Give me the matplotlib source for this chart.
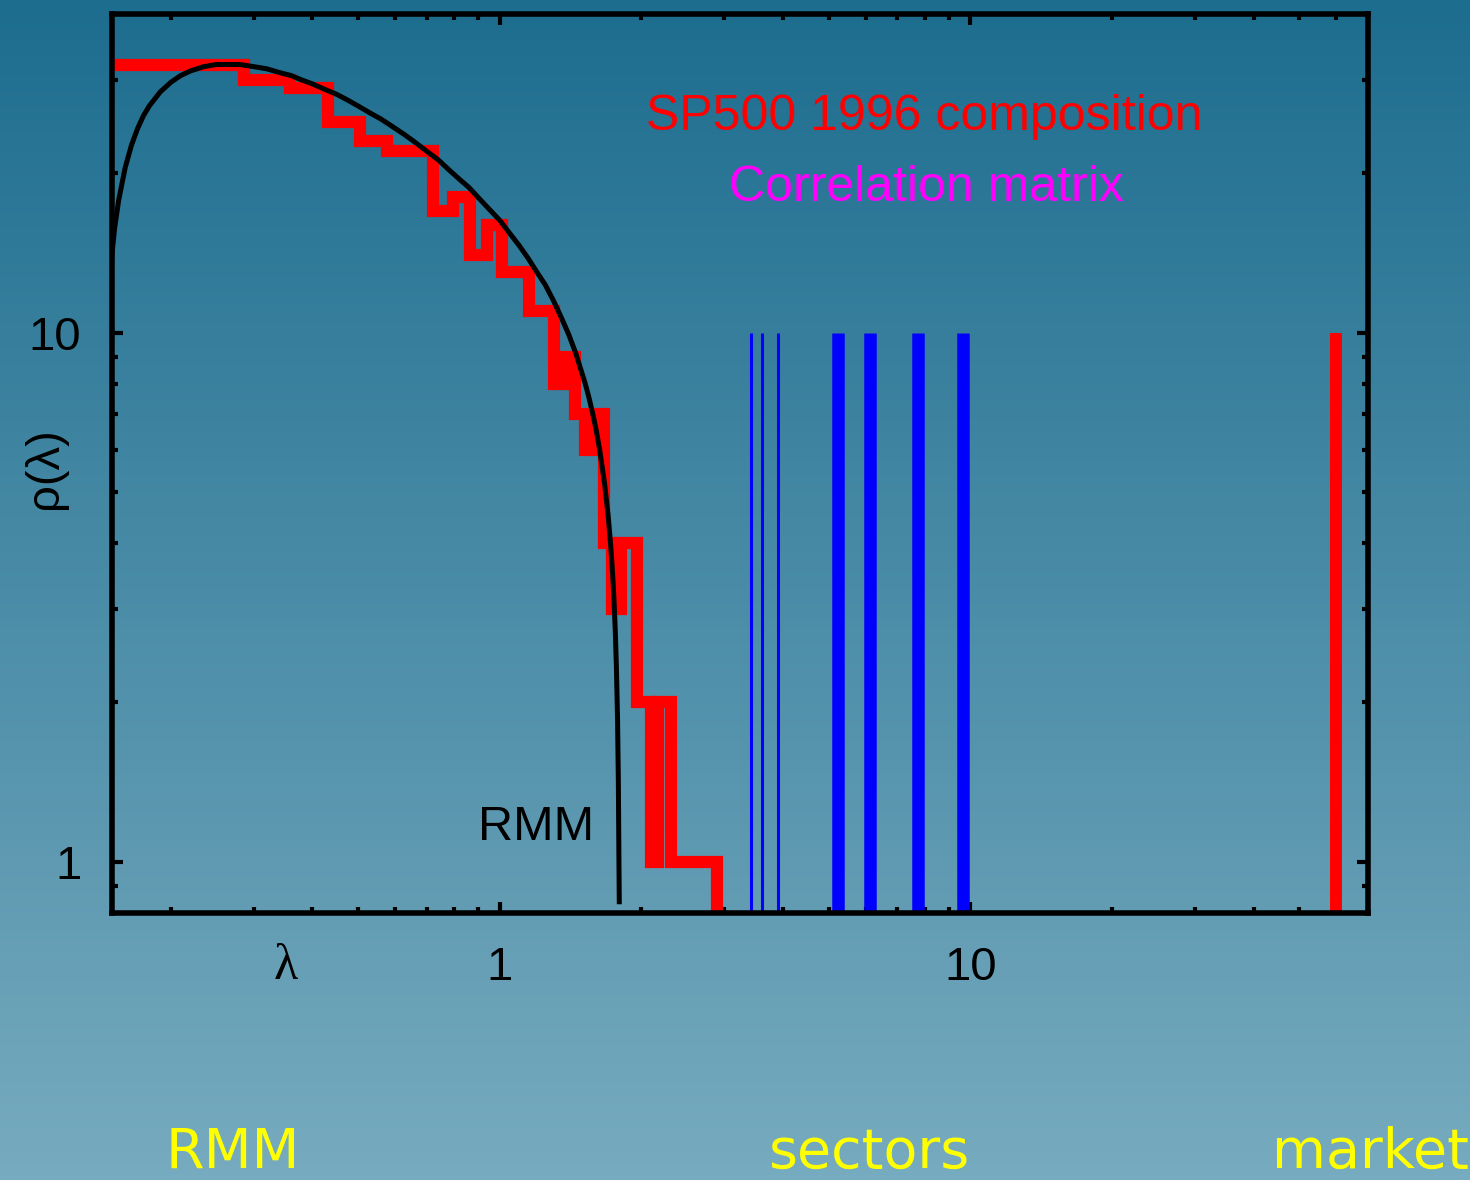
"""SP500 correlation matrix eigenvalue spectrum vs random matrix (matplotlib -> out.png)."""

import matplotlib
matplotlib.use("Agg")  # no display
import matplotlib.pyplot as plt
import numpy as np
from matplotlib.colors import LinearSegmentedColormap
from matplotlib.ticker import LogLocator, NullFormatter

plt.rcParams["font.family"] = ["Liberation Sans", "DejaVu Sans"]

# eigenvalue histogram: bin edges and counts per bin
bin_edges = [
    0.141, 0.214, 0.286, 0.359, 0.431, 0.504, 0.576, 0.649, 0.721, 0.794,
    0.866, 0.939, 1.011, 1.084, 1.156, 1.229, 1.301, 1.374, 1.446, 1.519,
    1.591, 1.664, 1.736, 1.809, 1.881, 1.954, 2.026, 2.099, 2.171, 2.244,
    2.316, 2.389, 2.461, 2.534, 2.606, 2.679, 2.751, 2.824, 2.896,
]
bin_counts = [
    32, 32, 30, 29, 25, 23, 22, 22, 17, 18,
    14, 16, 13, 13, 11, 11, 8, 9, 7, 6,
    7, 4, 3, 4, 4, 2, 2, 1, 2, 2,
    1, 1, 1, 1, 1, 1, 1, 1,
]

# random matrix curve
rmm_lam = [
    0.145, 0.148, 0.150, 0.152, 0.155, 0.160, 0.165, 0.170, 0.175, 0.180,
    0.190, 0.200, 0.210, 0.220, 0.235, 0.250, 0.265, 0.280, 0.300, 0.320,
    0.340, 0.360, 0.380, 0.400, 0.425, 0.450, 0.475, 0.500, 0.530, 0.560,
    0.600, 0.630, 0.660, 0.700, 0.740, 0.780, 0.820, 0.860, 0.900, 0.950,
    1.000, 1.050, 1.100, 1.150, 1.200, 1.250, 1.300, 1.350, 1.400, 1.450,
    1.520, 1.550, 1.580, 1.600, 1.630, 1.670, 1.700, 1.720, 1.730, 1.740,
    1.750, 1.760, 1.770, 1.780, 1.787, 1.792, 1.795,
]
rmm_rho = [
    7.8, 12.1, 14.1, 15.8, 17.8, 20.5, 22.6, 24.3, 25.7, 26.8,
    28.5, 29.7, 30.6, 31.2, 31.8, 32.1, 32.1, 32.1, 31.8, 31.5,
    31.0, 30.6, 30.0, 29.5, 28.8, 28.2, 27.5, 26.8, 26.0, 25.3,
    24.3, 23.6, 22.9, 22.0, 21.2, 20.3, 19.5, 18.8, 18.0, 17.1,
    16.3, 15.4, 14.6, 13.8, 13.0, 12.3, 11.5, 10.7, 9.94, 9.15,
    8.0, 7.49, 6.96, 6.60, 6.02, 5.19, 4.50, 3.99, 3.71, 3.42,
    3.09, 2.74, 2.33, 1.85, 1.41, 1.00, 0.84,
]

# deviating eigenvalues
sector_lam_small = [3.42, 3.60, 3.90]
sector_lam_large = [5.24, 6.13, 7.74, 9.63]
market_lam = [59.9]
spike_height = 10

fig = plt.figure(figsize=(14.7, 11.8), dpi=100)

# background gradient
bg = fig.add_axes([0, 0, 1, 1], zorder=-10)
grad = np.linspace(0, 1, 256).reshape(-1, 1)
cmap = LinearSegmentedColormap.from_list("bg", ["#1d6d8f", "#77abbf"])
bg.imshow(grad, aspect="auto", cmap=cmap, extent=[0, 1, 0, 1], origin="upper")
bg.axis("off")

ax = fig.add_axes([0.0762, 0.2263, 0.8544, 0.7619])
ax.set_facecolor("none")
ax.set_xscale("log")
ax.set_yscale("log")

# histogram as thick steps
step_x = np.append(np.repeat(bin_edges, 2)[1:-1], bin_edges[-1])
step_y = np.append(np.repeat(bin_counts, 2), 0)
ax.plot(step_x, step_y, color="red", lw=8.8,
        solid_joinstyle="miter", solid_capstyle="butt", zorder=2)

# RMM curve
ax.plot(rmm_lam, rmm_rho, color="black", lw=3.6, zorder=3)

# sector and market eigenvalues
for lam in sector_lam_small:
    ax.plot([lam, lam], [0, spike_height], color="blue", lw=2.2,
            solid_capstyle="butt", zorder=2)
for lam in sector_lam_large:
    ax.plot([lam, lam], [0, spike_height], color="blue", lw=9.0,
            solid_capstyle="butt", zorder=2)
for lam in market_lam:
    ax.plot([lam, lam], [0, spike_height], color="red", lw=8.6,
            solid_capstyle="butt", zorder=2)

ax.set_xlim(0.15, 70)
ax.set_ylim(0.8, 40)
ax.set_xticks([1, 10], ["1", "10"])
ax.set_yticks([1, 10], ["1", "10"])
for axis in (ax.xaxis, ax.yaxis):
    axis.set_minor_locator(LogLocator(base=10, subs=np.arange(2, 10)))
    axis.set_minor_formatter(NullFormatter())

ax.tick_params(which="both", direction="in", top=True, right=True,
               width=3, color="black", labelsize=34)
ax.tick_params(which="major", length=8)
ax.tick_params(which="minor", length=4.5)
ax.tick_params(axis="x", pad=24)
ax.tick_params(axis="y", pad=22)

for sp in ax.spines.values():
    sp.set_linewidth(4)
    sp.set_color("black")
    sp.set_zorder(5)

ax.set_xlabel("λ", fontsize=36, family=["Liberation Serif", "DejaVu Serif"])
ax.xaxis.set_label_coords(0.138, -0.060)
ax.xaxis.label.set_va("center")
ax.set_ylabel("ρ(λ)", fontsize=34)
ax.yaxis.set_label_coords(-0.053, 0.495)
ax.yaxis.label.set_va("center")

# annotations inside the plot
ax.text(0.647, 0.871, "SP500 1996 composition", color="red", fontsize=36,
        ha="center", va="baseline", transform=ax.transAxes)
ax.text(0.648, 0.792, "Correlation matrix", color="magenta", fontsize=36,
        ha="center", va="baseline", transform=ax.transAxes)
ax.text(0.2914, 0.0812, "RMM", color="black", fontsize=35,
        ha="left", va="baseline", transform=ax.transAxes)

# region captions below the plot
for label, xpos in [("RMM", 0.1585), ("sectors", 0.5918), ("market", 0.932)]:
    fig.text(xpos, 0.0102, label, color="#ffff00", fontsize=40,
             family=["DejaVu Sans"], ha="center", va="baseline")

fig.savefig("out.png", dpi=100)
plt.close(fig)
